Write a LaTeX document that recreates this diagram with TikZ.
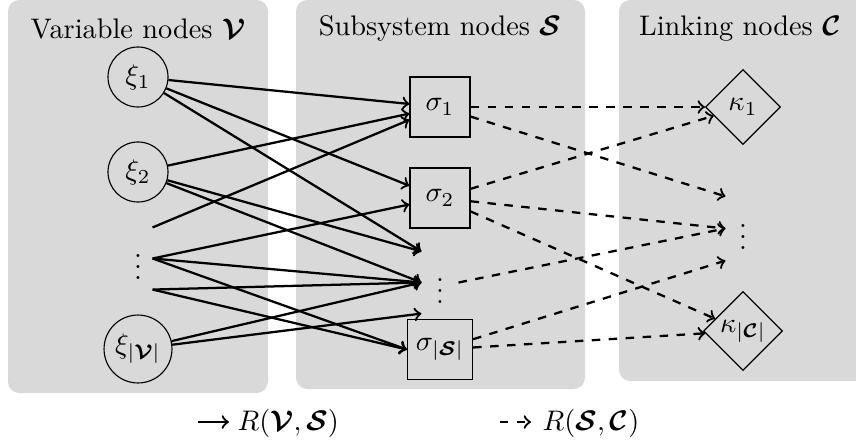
\documentclass[tikz,border=0pt]{standalone}
\usepackage{amsmath}
\usepackage{bm}
\usetikzlibrary{shapes.geometric}
\definecolor{panelgray}{RGB}{217,217,217}
\begin{document}
\begin{tikzpicture}[x=0.3533pt,y=-0.3533pt,
  panel/.style={fill=panelgray, rounded corners=4pt},
  varnode/.style={circle, draw, minimum size=21.2pt, inner sep=0pt},
  subnode/.style={rectangle, draw, minimum size=21.2pt, inner sep=1pt},
  linknode/.style={diamond, draw, minimum size=26.5pt, inner sep=0pt},
  dotnode/.style={inner sep=0pt, minimum height=21.55pt},
  title/.style={anchor=base, inner sep=0pt},
  vsedge/.style={thick, ->},
  scedge/.style={thick, dashed, ->},
]
\useasboundingbox (0,0) rectangle (856,443);
% panels
\fill[panel] (8,0) rectangle (268,393);
\fill[panel] (296,0) rectangle (585,389);
\fill[panel] (619,0) rectangle (875,381);
% titles
\node[title] (tv) at (138,38) {Variable nodes $\bm{\mathcal{V}}$};
\node[title] (ts) at (440,35) {Subsystem nodes $\bm{\mathcal{S}}$};
\node[title] (tc) at (740,35) {Linking nodes $\bm{\mathcal{C}}$};
% variable nodes
\node[varnode] (x1) at (138,77) {$\xi_1$};
\node[varnode] (x2) at (138,172) {$\xi_2$};
\node[dotnode, minimum width=9.9pt] (vd) at (138,258.5) {$\vdots$};
\node[varnode, minimum size=24pt] (xn) at (138,349) {$\xi_{|\bm{\mathcal{V}}|}$};
% subsystem nodes
\node[subnode] (s1) at (440,107) {$\sigma_1$};
\node[subnode] (s2) at (440,198) {$\sigma_2$};
\node[dotnode, minimum width=12.7pt] (sd) at (440,282.5) {$\vdots$};
\node[subnode, minimum width=23pt] (sn) at (440,349.5) {$\sigma_{|\bm{\mathcal{S}}|}$};
% linking nodes
\node[linknode] (k1) at (743,107) {$\kappa_1$};
\node[dotnode, minimum width=12pt, minimum height=22.3pt] (cd) at (743,228.5) {$\vdots$};
\node[linknode, minimum size=27.9pt] (kn) at (743,331) {$\kappa_{|\bm{\mathcal{C}}|}$};
% V -> S
\draw[vsedge] (x1) -- (s1);
\draw[vsedge] (x1) -- (s2);
\draw[vsedge] (x1) -- (sd.north west);
\draw[vsedge] (x2) -- (s1);
\draw[vsedge] (x2) -- (sd.north west);
\draw[vsedge] (x2) -- (sd.west);
\draw[vsedge] (vd.north east) -- (s1);
\draw[vsedge] (vd.east) -- (s2);
\draw[vsedge] (vd.east) -- (sd.west);
\draw[vsedge] (vd.east) -- (sn.west);
\draw[vsedge] (vd.south east) -- (sd.west);
\draw[vsedge] (vd.south east) -- (sn.west);
\draw[vsedge] (xn) -- (sd.west);
\draw[vsedge] (xn) -- (sd.south west);
% S -> C
\draw[scedge] (s1) -- (k1);
\draw[scedge] (s1) -- (cd.north west);
\draw[scedge] (s2) -- (k1);
\draw[scedge] (s2) -- (cd.west);
\draw[scedge] (s2) -- (kn);
\draw[scedge] (sd.east) -- (cd.west);
\draw[scedge] (sn) -- (cd.south west);
\draw[scedge] (sn) -- (kn);
% legend
\coordinate (l1a) at (198,422);
\coordinate (l1b) at (229,422);
\draw[vsedge] (l1a) -- (l1b);
\node[anchor=base west, inner sep=0pt] (l1t) at (237,430) {$R(\bm{\mathcal{V}},\bm{\mathcal{S}})$};
\coordinate (l2a) at (500,422);
\coordinate (l2b) at (531,422);
\draw[scedge] (l2a) -- (l2b);
\node[anchor=base west, inner sep=0pt] (l2t) at (542,430) {$R(\bm{\mathcal{S}},\bm{\mathcal{C}})$};
\end{tikzpicture}
\end{document}
